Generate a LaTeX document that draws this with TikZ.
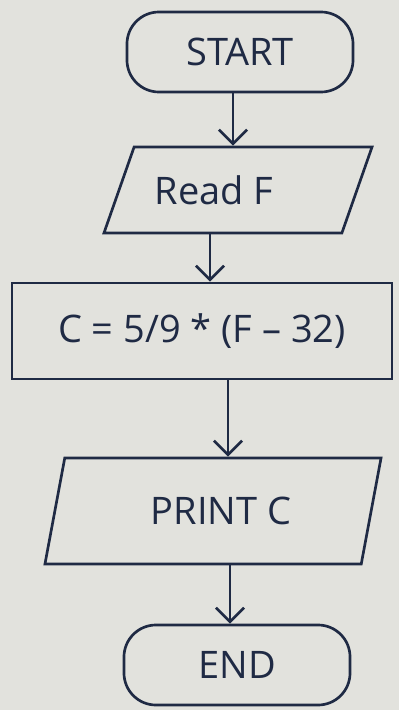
\documentclass[tikz,border=0pt]{standalone}
\usepackage{fontspec}
\setmainfont{Open Sans}
\usepackage{tikz}
\usetikzlibrary{arrows.meta,positioning,calc,shapes.geometric}
\definecolor{ink}{HTML}{1F2A44}
\definecolor{paper}{HTML}{E2E2DD}

\begin{document}
\begin{tikzpicture}[x=.025cm,y=-.025cm,font=\fontsize{27}{30}\selectfont,color=ink,line width=1.9pt,
  term/.style={draw,rounded corners=.8cm,minimum width=5.65cm,minimum height=2cm},
  io/.style={draw,trapezium,trapezium stretches body,trapezium left angle=#1,trapezium right angle=180-#1},
  proc/.style={draw,minimum width=9.5cm,minimum height=2.4cm},
  flow/.style={-{Straight Barb[length=10pt,width=20pt]}}]
\fill[paper] (0,0) rectangle (399,710);
\useasboundingbox (0,0) rectangle (399,710);
% boxes
\node[term] (start) at (240,52) {START};
\node[io=52,minimum width=6.7cm,minimum height=2.15cm] (read) at (238,190) {Read F\kern1.2cm};
\node[proc] (calc) at (202,331) {C = 5/9 * (F -- 32)};
\node[io=62,minimum width=8.4cm,minimum height=2.65cm] (print) at (213,511) {\kern.4cm PRINT C};
\node[term] (stop) at (237,665) {END};
% arrows
\draw[flow] ($(start.south)+(-7,0)$) coordinate (s1) -- (s1 |- read.north);
\draw[flow] ($(read.south)+(-28,0)$) coordinate (s2) -- (s2 |- calc.north);
\draw[flow] ($(calc.south)+(26,0)$) coordinate (s3) -- (s3 |- print.north);
\draw[flow] ($(print.south)+(17,0)$) coordinate (s4) -- (s4 |- stop.north);
\end{tikzpicture}
\end{document}
